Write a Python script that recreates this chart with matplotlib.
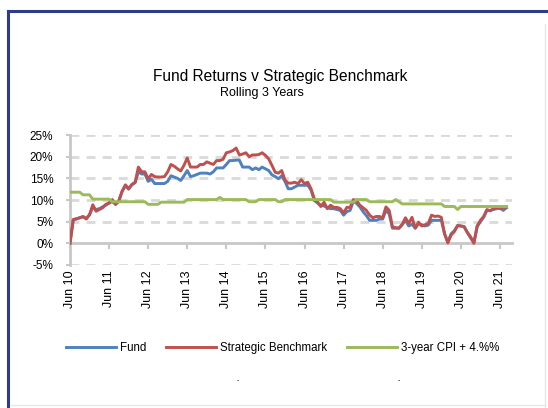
import matplotlib
matplotlib.use("Agg")
import matplotlib.pyplot as plt
from matplotlib.lines import Line2D

plt.rcParams['font.family'] = ['Liberation Sans', 'DejaVu Sans']

# monthly, Jun 2010 .. Aug 2021 (rolling 3 year returns, %)
fund = [0.0, 5.4, 5.6, 5.9, 6.1, 5.8, 6.6, 8.3, 7.8, 8.0,
        8.4, 8.8, 9.3, 9.6, 9.0, 9.7, 12.0, 13.3, 12.5, 13.5,
        14.0, 16.5, 16.0, 16.0, 14.3, 14.8, 13.8, 13.8, 13.8, 13.8,
        14.3, 15.6, 15.3, 15.0, 14.5, 15.6, 16.8, 15.4, 15.6, 15.9,
        16.2, 16.2, 16.2, 16.0, 16.5, 17.4, 17.4, 17.4, 18.2, 19.1,
        19.1, 19.2, 19.2, 17.6, 17.6, 17.6, 17.0, 17.4, 17.0, 17.6,
        17.2, 16.8, 15.8, 15.4, 14.9, 15.6, 14.3, 12.6, 12.6, 13.0,
        13.4, 13.4, 13.4, 13.4, 12.3, 9.9, 9.3, 8.8, 8.6, 8.3,
        8.0, 8.0, 7.8, 7.6, 6.5, 7.3, 7.6, 9.7, 9.2, 8.4,
        7.3, 6.4, 5.3, 5.3, 5.3, 5.6, 5.6, 7.6, 6.8, 3.5,
        3.5, 3.5, 4.3, 5.3, 4.0, 4.4, 3.5, 4.5, 4.3, 4.0,
        4.2, 5.3, 5.3, 5.3, 5.3, 2.2, 0.3, 2.2, 2.9, 4.1,
        4.0, 3.9, 2.5, 1.2, 0.2, 3.8, 5.0, 6.0, 7.6, 7.6,
        7.8, 8.0, 8.2, 7.6, 8.2]

benchmark = [0.0, 5.5, 5.7, 5.9, 6.2, 5.6, 6.6, 8.9, 7.4, 7.8,
             8.2, 9.0, 9.3, 10.1, 9.0, 9.9, 12.0, 13.5, 12.6, 13.6,
             14.1, 17.6, 16.5, 16.5, 14.9, 15.9, 15.4, 15.3, 15.3, 15.4,
             16.5, 18.2, 17.8, 17.2, 16.7, 18.0, 19.7, 17.6, 17.6, 17.6,
             18.2, 18.2, 18.8, 18.5, 18.2, 19.1, 19.1, 19.4, 20.9, 21.1,
             21.4, 22.0, 20.4, 20.6, 20.9, 20.0, 20.4, 20.4, 20.5, 20.9,
             20.3, 19.5, 18.0, 16.4, 16.2, 16.8, 14.6, 13.9, 13.9, 14.1,
             13.8, 14.7, 13.8, 14.1, 12.6, 10.3, 9.5, 8.5, 9.5, 8.0,
             8.8, 8.3, 8.3, 8.0, 7.0, 8.3, 8.3, 10.1, 9.9, 8.8,
             8.2, 7.6, 6.5, 5.9, 6.2, 6.2, 5.9, 8.4, 7.6, 3.8,
             3.6, 3.5, 4.4, 5.9, 4.6, 6.0, 3.5, 4.9, 4.0, 4.3,
             4.6, 6.5, 6.2, 6.3, 6.0, 2.2, 0.1, 1.9, 2.7, 4.1,
             4.0, 3.8, 2.5, 1.5, 0.0, 4.0, 5.3, 6.2, 7.8, 7.5,
             8.0, 8.3, 8.0, 8.3, 8.4]

cpi = [11.8, 11.8, 11.8, 11.8, 11.2, 11.2, 11.2, 10.2, 10.2, 10.2,
       10.2, 10.2, 10.2, 9.6, 9.6, 9.6, 9.6, 9.6, 9.6, 9.6,
       9.6, 9.6, 9.6, 9.6, 9.0, 9.0, 9.0, 9.0, 9.5, 9.5,
       9.5, 9.5, 9.5, 9.5, 9.5, 9.5, 10.1, 10.1, 10.1, 10.1,
       10.1, 10.1, 10.1, 10.1, 10.1, 10.1, 10.6, 10.1, 10.1, 10.1,
       10.1, 10.1, 10.1, 10.1, 10.1, 9.6, 9.6, 9.6, 10.1, 10.1,
       10.1, 10.1, 10.1, 10.1, 9.6, 9.6, 10.1, 10.1, 10.1, 10.1,
       10.1, 10.1, 10.1, 10.1, 10.1, 10.1, 10.1, 10.1, 10.1, 10.1,
       10.1, 9.5, 9.5, 9.5, 9.5, 9.5, 9.5, 9.5, 10.1, 10.1,
       10.1, 10.1, 9.6, 9.6, 9.6, 9.6, 9.6, 9.6, 9.6, 9.6,
       10.1, 9.6, 9.1, 9.1, 9.1, 9.1, 9.1, 9.1, 9.1, 9.1,
       9.1, 9.1, 9.1, 9.1, 9.1, 8.5, 8.5, 8.5, 8.5, 7.8,
       8.5, 8.5, 8.5, 8.5, 8.5, 8.5, 8.5, 8.5, 8.5, 8.5,
       8.5, 8.5, 8.5, 8.5, 8.5]

tick_months = [0, 12, 24, 36, 48, 60, 72, 84, 96, 108, 120, 132]
tick_labels = ['Jun 10', 'Jun 11', 'Jun 12', 'Jun 13', 'Jun 14', 'Jun 15',
               'Jun 16', 'Jun 17', 'Jun 18', 'Jun 19', 'Jun 20', 'Jun 21']
yticks = [-5, 0, 5, 10, 15, 20, 25]

months = list(range(len(fund)))

fig = plt.figure(figsize=(5.48, 4.08), dpi=100)
ax = fig.add_axes([0.1277, 0.3505, 0.806, 0.3186])

grid_c = '#D9D9D9'
axis_c = '#C8C8C8'

for v in yticks:
    if v != 0:
        ax.axhline(v, color=grid_c, lw=2, ls=(0, (3.2, 2.6)), zorder=1)

ax.plot(months, fund, color='#4F81BD', lw=2.1, label='Fund', zorder=3)
ax.plot(months, benchmark, color='#C0504D', lw=2.1, label='Strategic Benchmark', zorder=4)
ax.plot(months, cpi, color='#9BBB59', lw=2.1, label='3-year CPI + 4.%%', zorder=5)

ax.set_xlim(0, 135.6)
ax.set_ylim(-5, 25)
ax.set_yticks(yticks)
ax.set_yticklabels(['%d%%' % v for v in yticks], fontsize=8.5)
ax.tick_params(axis='y', length=3, width=1.5, color=axis_c, pad=9)

ax.set_xticks(tick_months)
ax.set_xticklabels(tick_labels, rotation=90, fontsize=9)
ax.tick_params(axis='x', length=0, pad=4)

for s in ['top', 'right', 'bottom']:
    ax.spines[s].set_visible(False)
ax.spines['left'].set_color(axis_c)
ax.spines['left'].set_linewidth(2)

sec = ax.secondary_xaxis(1 / 6)
sec.set_xticks(tick_months)
sec.set_xticklabels([])
sec.tick_params(length=4, width=1.5, color=axis_c)
sec.spines['bottom'].set_color(axis_c)
sec.spines['bottom'].set_linewidth(2)

fig.text(0.511, 0.812, 'Fund Returns v Strategic Benchmark', ha='center', va='center', fontsize=11.2)
fig.text(0.478, 0.773, 'Rolling 3 Years', ha='center', va='center', fontsize=9)

fig.legend(loc='center', bbox_to_anchor=(0.516, 0.147), ncol=3, frameon=False,
           fontsize=8.3, handlelength=4.3, handletextpad=0.4, columnspacing=1.7)

fig.text(0.434, 0.066, '-', ha='center', va='center', fontsize=5)
fig.text(0.728, 0.066, '-', ha='center', va='center', fontsize=5)

# frame
fig.add_artist(Line2D([0.015, 0.015], [0.0, 0.973], color='#2E3C8C', lw=2.2))
fig.add_artist(Line2D([0.014, 1.0], [0.973, 0.973], color='#2E3C8C', lw=2.2))
fig.add_artist(Line2D([0.995, 0.995], [0.0, 0.94], color='#E6E6E6', lw=1))
fig.add_artist(Line2D([0.02, 0.995], [0.008, 0.008], color='#E6E6E6', lw=1))

fig.savefig('out.png', dpi=100)
